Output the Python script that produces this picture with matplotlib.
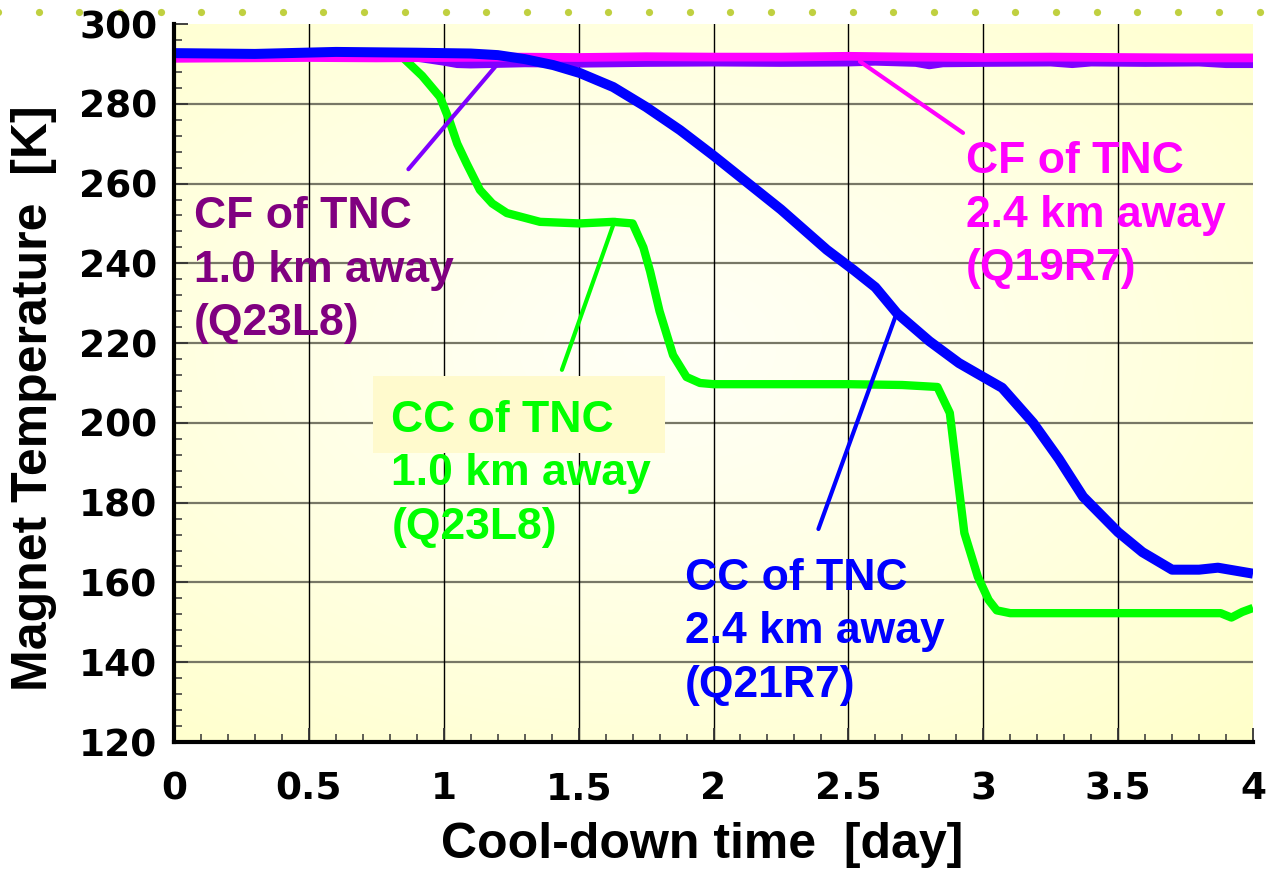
import numpy as np
import matplotlib
matplotlib.use("Agg")
import matplotlib.pyplot as plt
from matplotlib.patches import Rectangle
from matplotlib.lines import Line2D

# ---------------- data ----------------
# CC of TNC 2.4 km away (Q21R7) - blue
cc24_day = [0.0, 0.3, 0.6, 0.9, 1.1, 1.2, 1.3, 1.406, 1.505, 1.628, 1.75, 1.876, 2.0,
            2.25, 2.42, 2.52, 2.6, 2.68, 2.8, 2.91, 3.0, 3.07, 3.185, 3.28, 3.37, 3.5,
            3.59, 3.7, 3.8, 3.87, 4.0]
cc24_temp = [292.7, 292.5, 293.0, 292.8, 292.6, 292.2, 291.2, 289.7, 287.7, 284.2, 279.2,
             273.4, 267.0, 253.5, 243.4, 238.3, 234.0, 227.5, 220.5, 215.0, 211.5, 208.8,
             200.0, 191.0, 181.5, 172.6, 167.6, 163.2, 163.2, 163.7, 162.2]

# CC of TNC 1.0 km away (Q23L8) - green
cc10_day = [0.0, 0.5, 0.85, 0.92, 0.986, 1.02, 1.05, 1.085, 1.134, 1.18, 1.234, 1.357,
            1.505, 1.628, 1.70, 1.74, 1.765, 1.8, 1.85, 1.9, 1.95, 2.0, 2.5, 2.7, 2.83,
            2.876, 2.90, 2.93, 2.98, 3.02, 3.05, 3.1, 3.5, 3.8, 3.88, 3.92, 3.96, 4.0]
cc10_temp = [292.3, 292.3, 291.5, 287.0, 281.7, 276.0, 270.0, 265.0, 258.4, 255.0, 252.6,
             250.4, 250.0, 250.4, 250.0, 244.0, 238.0, 228.0, 217.0, 211.5, 210.0, 209.7,
             209.7, 209.5, 209.0, 202.5, 189.0, 172.4, 161.4, 155.6, 153.0, 152.3, 152.3,
             152.3, 152.3, 151.2, 152.6, 153.6]

# CF of TNC 2.4 km away (Q19R7) - magenta
cf24_day = [0.0, 0.25, 0.5, 0.75, 1.0, 1.25, 1.5, 1.75, 2.0, 2.25, 2.5, 2.75, 3.0,
            3.25, 3.5, 3.75, 4.0]
cf24_temp = [291.4, 291.5, 291.6, 291.5, 291.6, 291.7, 291.6, 291.8, 291.7, 291.7, 291.9,
             291.7, 291.6, 291.7, 291.6, 291.5, 291.5]

# CF of TNC 1.0 km away (Q23L8) - violet
cf10_day = [0.0, 0.5, 0.9, 1.0, 1.05, 1.1, 1.3, 1.5, 1.75, 2.0, 2.25, 2.5, 2.6, 2.75,
            2.8, 2.85, 3.0, 3.25, 3.33, 3.4, 3.6, 3.8, 3.9, 4.0]
cf10_temp = [292.0, 292.0, 291.6, 290.6, 290.0, 289.9, 290.2, 290.1, 290.3, 290.4, 290.3,
             290.4, 290.6, 290.3, 289.7, 290.2, 290.3, 290.4, 290.0, 290.4, 290.3, 290.4,
             290.0, 290.0]

# annotation texts
cf10_label = ["CF of TNC", "1.0 km away", "(Q23L8)"]
cc10_label = ["CC of TNC", "1.0 km away", "(Q23L8)"]
cc24_label = ["CC of TNC", "2.4 km away", "(Q21R7)"]
cf24_label = ["CF of TNC", "2.4 km away", "(Q19R7)"]

# axis ticks / labels
x_ticks = [0, 0.5, 1, 1.5, 2, 2.5, 3, 3.5, 4]
x_tick_labels = ["0", "0.5", "1", "1.5", "2", "2.5", "3", "3.5", "4"]
y_ticks = [120, 140, 160, 180, 200, 220, 240, 260, 280, 300]
x_title = "Cool-down time  [day]"
y_title = "Magnet Temperature  [K]"

# ---------------- figure ----------------
W, H = 1266, 872
fig = plt.figure(figsize=(W / 100, H / 100), dpi=100, facecolor="white")
ax = fig.add_axes([174 / W, 1 - 742 / H, 1079 / W, 718 / H])
ax.set_facecolor("white")

# pale yellow radial gradient background
ny, nx = 200, 300
yy, xx = np.mgrid[0:1:ny * 1j, 0:1:nx * 1j]
r = np.clip(np.sqrt(((xx - 0.45) / 0.8) ** 2 + ((yy - 0.45) / 0.75) ** 2), 0, 1)
inner = np.array([255, 255, 246]) / 255.0
outer = np.array([255, 255, 202]) / 255.0
img = inner + (outer - inner) * (r[..., None] ** 1.2)
ax.imshow(img, extent=[0, 1, 0, 1], transform=ax.transAxes, aspect="auto",
          zorder=0, interpolation="bilinear")

ax.set_xlim(0, 4)
ax.set_ylim(120, 300)

# grid (interior lines only)
for yv in y_ticks[1:-1]:
    ax.axhline(yv, color="#777766", lw=1.6, zorder=1)
for xv in x_ticks[1:-1]:
    ax.axvline(xv, color="black", lw=1.0, zorder=1)

# highlight box behind the green label
ax.add_patch(Rectangle((0.738, 192.5), 1.082, 19.3, facecolor="#FFFACD",
                       edgecolor="none", zorder=2))

# series
ax.plot(cc10_day, cc10_temp, color="#00FF00", lw=6.0, zorder=3,
        solid_joinstyle="round", solid_capstyle="butt")
ax.plot(cf10_day, cf10_temp, color="#7F00FF", lw=6.0, zorder=4,
        solid_joinstyle="round", solid_capstyle="butt")
ax.plot(cf24_day, cf24_temp, color="#FF00FF", lw=6.3, zorder=5,
        solid_joinstyle="round", solid_capstyle="butt")
ax.plot(cc24_day, cc24_temp, color="#0000FF", lw=7.2, zorder=6,
        solid_joinstyle="round", solid_capstyle="butt")

# leader lines
leaders = [
    ([0.869, 1.196], [263.6, 289.7], "#7F00FF"),
    ([1.438, 1.635], [213.3, 250.9], "#00FF00"),
    ([2.389, 2.679], [173.4, 227.5], "#0000FF"),
    ([2.925, 2.543], [272.7, 290.6], "#FF00FF"),
]
for lx, ly, c in leaders:
    ax.plot(lx, ly, color=c, lw=3.0, zorder=7, solid_capstyle="round")

# annotation texts (one baseline per line)
txt_font = dict(family="Liberation Sans", weight="bold", size=32)
def put_label(lines, x, y0, color, step=13.4):
    for i, s in enumerate(lines):
        ax.text(x, y0 - i * step, s, color=color, ha="left", va="baseline",
                zorder=8, **txt_font)

put_label(cf10_label, 0.074, 248.8, "#800080")
put_label(cc10_label, 0.806, 197.8, "#00FF00")
put_label(cc24_label, 1.894, 158.1, "#0000FF")
put_label(cf24_label, 2.936, 262.6, "#FF00FF")

# spines
for s in ("top", "right"):
    ax.spines[s].set_visible(False)
for s in ("left", "bottom"):
    ax.spines[s].set_linewidth(3.0)
    ax.spines[s].set_color("black")
    ax.spines[s].set_zorder(9)

# ticks
ax.set_xticks(x_ticks)
ax.set_xticklabels(x_tick_labels)
ax.set_yticks(y_ticks)
ax.set_xticks(np.arange(0, 4.0001, 0.1), minor=True)
ax.set_yticks(np.arange(120, 300.001, 4), minor=True)
tick_font = dict(family="DejaVu Sans", weight="bold", size=27)
ax.tick_params(which="major", direction="in", length=10, width=1.3, color="#333333",
               top=False, right=False)
ax.tick_params(which="minor", direction="in", length=6, width=1.1, color="#333333",
               top=False, right=False)
ax.tick_params(axis="x", which="major", pad=21)
ax.tick_params(axis="y", which="major", pad=12)
for lab in ax.get_xticklabels() + ax.get_yticklabels():
    lab.set_fontfamily(tick_font["family"])
    lab.set_fontweight(tick_font["weight"])
    lab.set_fontsize(tick_font["size"])

# axis titles
ax.set_xlabel(x_title, family="Liberation Sans", weight="bold", size=36)
ax.xaxis.set_label_coords((702.5 - 174) / 1079, (742 - 858) / 718)
ax.xaxis.label.set_verticalalignment("baseline")
ax.set_ylabel(y_title, family="Liberation Sans", weight="bold", size=36)
ax.yaxis.label.set(va="center", ha="center", rotation_mode="anchor")
ax.yaxis.set_label_coords((34 - 174) / 1079, (742 - 398) / 718)

# decorative dotted rule along the top
dot_x = np.arange(-2.2, W + 5, 40.7) / W
fig.add_artist(Line2D(dot_x, np.full_like(dot_x, 1 - 12.5 / H), transform=fig.transFigure,
                      linestyle="none", marker="o", markersize=5.2,
                      markerfacecolor="#C0D040", markeredgecolor="none", zorder=0))

fig.savefig("out.png", dpi=100, facecolor="white")
